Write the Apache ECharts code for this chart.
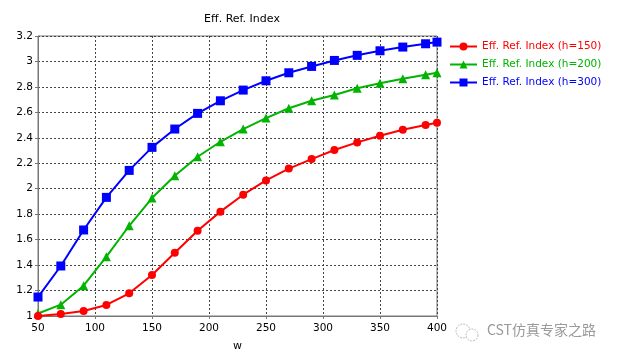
<!DOCTYPE html>
<html><head><meta charset="utf-8">
<script src="https://cdn.jsdelivr.net/npm/echarts@6/dist/echarts.min.js"></script>
<style>html,body{margin:0;padding:0;background:#fff}#c{width:624px;height:358px}</style>
</head><body><div id="c"></div>
<script>
const wValues = [50,70,90,110,130,150,170,190,210,230,250,270,290,310,330,350,370,390,400];
const h150 = [1.00,1.015,1.04,1.087,1.178,1.322,1.497,1.67,1.82,1.953,2.065,2.158,2.233,2.304,2.364,2.416,2.463,2.500,2.518];
const h200 = [1.02,1.089,1.238,1.466,1.709,1.927,2.102,2.251,2.369,2.469,2.555,2.632,2.691,2.736,2.789,2.828,2.864,2.896,2.911];
const h300 = [1.149,1.393,1.676,1.932,2.144,2.325,2.469,2.592,2.691,2.775,2.848,2.911,2.961,3.008,3.048,3.084,3.113,3.139,3.152];
const seriesNames = ['Eff. Ref. Index (h=150)','Eff. Ref. Index (h=200)','Eff. Ref. Index (h=300)'];
const colors = ['#ff0000','#00b400','#0000ff'];
const symbols = ['circle','triangle','rect'];
const symbolSizes = [8,9,9];
const dataSets = [h150,h200,h300];
const font = 'DejaVu Sans';

const chart = echarts.init(document.getElementById('c'));
chart.setOption({
  animation:false,
  backgroundColor:'#fff',
  title:{text:'Eff. Ref. Index',left:237,top:9,textAlign:'center',
    textStyle:{fontFamily:font,fontSize:11,fontWeight:'normal',color:'#000'}},
  legend:{orient:'vertical',left:444,top:36,itemWidth:27,itemHeight:10,itemGap:7,
    data:seriesNames.map((n,i)=>({name:n,textStyle:{color:colors[i]}})),
    textStyle:{fontFamily:font,fontSize:10.5}},
  grid:{left:38,right:187,top:36,bottom:42,show:true,borderColor:'#777',borderWidth:1},
  xAxis:{type:'value',min:50,max:400,interval:50,name:'w',nameLocation:'middle',nameGap:25,
    nameTextStyle:{fontFamily:font,fontSize:11,color:'#000'},
    axisLine:{lineStyle:{color:'#777'}},axisTick:{show:true,length:3,inside:false,lineStyle:{color:'#777'}},
    axisLabel:{fontFamily:font,fontSize:10.5,color:'#000',margin:7},
    splitLine:{show:true,lineStyle:{color:'#444',type:[2,2],width:1}}},
  yAxis:{type:'value',min:1,max:3.2,interval:0.2,
    axisLine:{show:true,lineStyle:{color:'#777'}},axisTick:{show:true,length:3,lineStyle:{color:'#777'}},
    axisLabel:{fontFamily:font,fontSize:10.5,color:'#000',margin:5,formatter:v=>String(Math.round(v*10)/10)},
    splitLine:{show:true,lineStyle:{color:'#444',type:[2,2],width:1}}},
  series:dataSets.map((d,i)=>({
    name:seriesNames[i],type:'line',data:wValues.map((w,j)=>[w,d[j]]),
    symbol:symbols[i],symbolSize:symbolSizes[i],showSymbol:true,
    lineStyle:{color:colors[i],width:2},itemStyle:{color:colors[i]},z:10-i
  })),
  graphic:[
    {type:'circle',shape:{cx:463,cy:331,r:7},style:{fill:'none',stroke:'#bbb',lineWidth:1,lineDash:[2,1]}},
    {type:'circle',shape:{cx:472,cy:335,r:6},style:{fill:'#fff',stroke:'#bbb',lineWidth:1,lineDash:[2,1]}},
    {type:'text',left:487,top:323,style:{text:'CST仿真专家之路',fill:'#9a9a9a',font:'14px "Noto Sans CJK SC"'}}
  ]
});
</script></body></html>
